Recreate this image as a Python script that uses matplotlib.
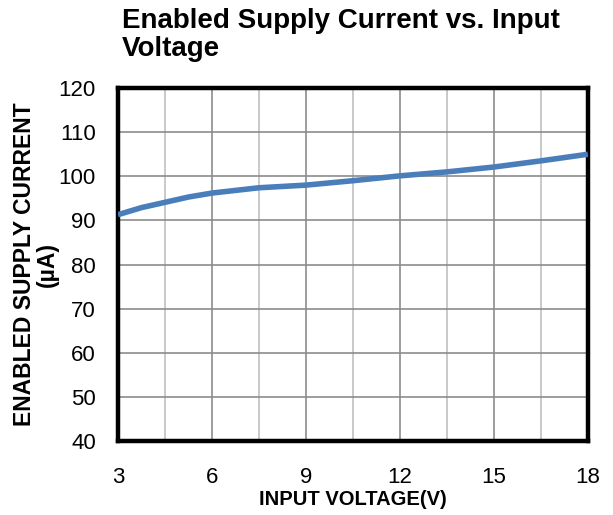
import matplotlib.pyplot as plt
from matplotlib.ticker import MultipleLocator

plt.rcParams['font.family'] = ['Liberation Sans', 'DejaVu Sans']

# input voltage (V) and enabled supply current (uA)
voltage = [3, 3.75, 4.5, 5.25, 6, 7.5, 9, 10.5, 12, 13.5, 15, 16.5, 18]
current = [91.3, 92.9, 94.1, 95.3, 96.2, 97.4, 98.0, 99.0, 100.1, 101.0, 102.1, 103.5, 105.0]

fig = plt.figure(figsize=(6.13, 5.15), dpi=100)
ax = fig.add_axes([0.1925, 0.1437, 0.7665, 0.6853])

ax.plot(voltage, current, color='#4a7ebb', linewidth=4, solid_capstyle='butt',
        solid_joinstyle='round', zorder=3)

ax.set_xlim(3, 18)
ax.set_ylim(40, 120)
ax.xaxis.set_major_locator(MultipleLocator(3))
ax.xaxis.set_minor_locator(MultipleLocator(1.5))
ax.yaxis.set_major_locator(MultipleLocator(10))

ax.grid(which='major', color='#8c8c8c', linewidth=1.2)
ax.grid(which='minor', axis='x', color='#c0c0c0', linewidth=1.2)
ax.tick_params(which='both', length=0)
ax.tick_params(axis='x', labelsize=16, pad=19)
ax.tick_params(axis='y', labelsize=16, pad=16)

for s in ax.spines.values():
    s.set_linewidth(3.2)
    s.set_color('black')

ax.set_xlabel('INPUT VOLTAGE(V)', fontsize=14.5, fontweight='bold', va='center')
ax.xaxis.set_label_coords(0.5, -0.167)
ax.set_ylabel('ENABLED SUPPLY CURRENT\n(µA)', fontsize=16.5, fontweight='bold',
              linespacing=1.0, va='center')
ax.yaxis.set_label_coords(-0.175, 0.5)

fig.text(0.199, 0.985, 'Enabled Supply Current vs. Input\nVoltage', fontsize=20,
         fontweight='bold', ha='left', va='top', linespacing=1.1)

fig.savefig('out.png', dpi=100)
